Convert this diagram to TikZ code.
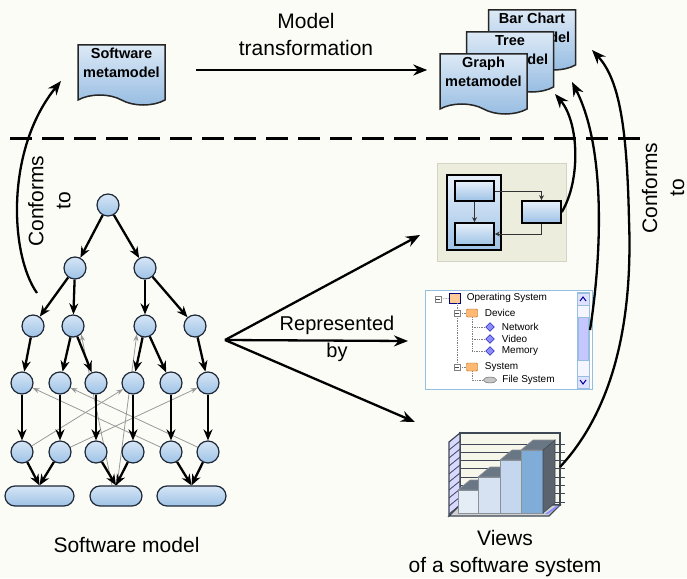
\documentclass[tikz,border=0pt]{standalone}
\usepackage{fontspec}
\setmainfont{Liberation Sans}
\usetikzlibrary{arrows.meta,positioning,shapes.symbols,shapes.geometric,backgrounds}

\definecolor{bgcol}{RGB}{252,252,247}
\definecolor{nodetop}{RGB}{214,230,246}
\definecolor{nodebot}{RGB}{158,194,230}
\definecolor{nodeline}{RGB}{30,40,55}
\definecolor{doctop}{RGB}{220,233,246}
\definecolor{docbot}{RGB}{150,188,226}
\definecolor{panelbg}{RGB}{237,237,221}
\definecolor{panelline}{RGB}{212,212,196}
\definecolor{tvframe}{RGB}{150,190,225}
\definecolor{chartgray}{RGB}{105,118,132}
\definecolor{chartdark}{RGB}{62,72,84}
\definecolor{wallcol}{RGB}{246,246,234}
\definecolor{barA}{RGB}{228,236,246}
\definecolor{barB}{RGB}{214,226,242}
\definecolor{barC}{RGB}{196,215,238}
\definecolor{barD}{RGB}{128,172,216}

\tikzset{
  smnode/.style={circle, draw=nodeline, line width=1.2pt, top color=nodetop,
    bottom color=nodebot, minimum size=22pt, inner sep=0pt},
  smbar/.style={rectangle, rounded corners=10pt, draw=nodeline, line width=1.2pt,
    top color=nodetop, bottom color=nodebot, minimum height=20pt, inner sep=0pt},
  tedge/.style={-{Stealth[length=11pt,width=9pt]}, line width=2.3pt},
  xedge/.style={-{Stealth[length=7pt,width=5pt]}, line width=0.8pt, draw=black!40},
  metadoc/.style={tape, tape bend top=none, tape bend bottom=out and in,
    tape bend height=10pt, draw=black!85, line width=1.5pt, top color=doctop,
    bottom color=docbot, minimum width=87pt, minimum height=60pt, inner sep=0pt,
    text depth=14pt, align=center, font=\bfseries\fontsize{14.5}{19}\selectfont},
  bigarrow/.style={-{Stealth[length=14pt,width=11pt]}, line width=2.3pt},
  biglabel/.style={font=\fontsize{21}{27}\selectfont, align=center},
  dvbox/.style={draw=black, line width=1.6pt, top color=nodetop!60,
    bottom color=nodebot, inner sep=0pt},
  dvedge/.style={-{Stealth[length=5pt,width=5pt]}, line width=0.9pt, draw=black!80},
  tvtext/.style={font=\fontsize{10}{12}\selectfont, inner sep=0pt, anchor=west},
  tvminus/.style={draw=gray, fill=white, minimum size=6pt, inner sep=0pt,
    path picture={\draw[black!70] (path picture bounding box.west) ++(1.2pt,0) -- ++(3.6pt,0);}},
  tvfolder/.style={draw=orange!70!black, fill=orange!55, minimum width=11pt,
    minimum height=8pt, inner sep=0pt, rounded corners=1pt},
  tvnet/.style={diamond, draw=blue!60!black, fill=blue!45, minimum size=9pt, inner sep=0pt},
  tvdisk/.style={ellipse, draw=gray!70!black, fill=gray!45, minimum width=13pt,
    minimum height=6pt, inner sep=0pt},
  tvline/.style={densely dotted, gray, line width=0.7pt},
}

\begin{document}
\begin{tikzpicture}[x=1pt,y=-1pt]
\useasboundingbox (0,0) rectangle (687,578);
\begin{scope}[on background layer]
  \fill[bgcol] (0,0) rectangle (687,578);
\end{scope}

% metamodels
\node[metadoc] (swmm) at (121.5,70) {Software\\metamodel};
\node[metadoc] (bcdoc) at (532,35) {Bar Chart\\metamodel};
\node[metadoc] (trdoc) at (510,57) {Tree\\metamodel};
\node[metadoc] (grdoc) at (483.5,79) {Graph\\metamodel};

\draw[bigarrow, shorten <=30pt, shorten >=12pt] (swmm.east) -- (swmm.east -| grdoc.west);
\node[biglabel] (mtlabel) at (306,34) {Model\\transformation};

\draw[line width=3pt, dash pattern=on 22pt off 10pt] (10,138) -- (643,138);

% software model
\node[smnode] (r) at (108,205) {};
\node[smnode] (a1) at (75,268) {};
\node[smnode] (a2) at (145,268) {};
\node[smnode] (b1) at (33,326) {};
\node[smnode] (b2) at (73,326) {};
\node[smnode] (b3) at (145,326) {};
\node[smnode] (b4) at (195,326) {};
\node[smnode] (c1) at (22,383) {};
\node[smnode] (c2) at (60,383) {};
\node[smnode] (c3) at (96,383) {};
\node[smnode] (c4) at (133,383) {};
\node[smnode] (c5) at (171,383) {};
\node[smnode] (c6) at (208,383) {};
\node[smnode] (d1) at (22,452) {};
\node[smnode] (d2) at (60,452) {};
\node[smnode] (d3) at (96,452) {};
\node[smnode] (d4) at (133,452) {};
\node[smnode] (d5) at (171,452) {};
\node[smnode] (d6) at (208,452) {};
\node[smbar, minimum width=69pt] (p1) at (39.5,496) {};
\node[smbar, minimum width=52pt] (p2) at (116,496) {};
\node[smbar, minimum width=69pt] (p3) at (191.5,496) {};

\draw[tedge] (r) -- (a1);
\draw[tedge] (r) -- (a2);
\draw[tedge] (a1) -- (b1);
\draw[tedge] (a1) -- (b2);
\draw[tedge] (a2) -- (b3);
\draw[tedge] (a2) -- (b4);
\draw[tedge] (b1) -- (c1);
\draw[tedge] (b2) -- (c2);
\draw[tedge] (b2) -- (c3);
\draw[tedge] (b3) -- (c4);
\draw[tedge] (b3) -- (c5);
\draw[tedge] (b4) -- (c6);
\foreach \i in {1,...,6}
  \draw[tedge] (c\i) -- (d\i);
\draw[tedge] (d1) -- (p1.north);
\draw[tedge] (d2) -- (p1.north);
\draw[tedge] (d3) -- (p2.north);
\draw[tedge] (d4) -- (p2.north);
\draw[tedge] (d5) -- (p3.north);
\draw[tedge] (d6) -- (p3.north);

% cross dependencies, behind the nodes
\begin{scope}[on background layer]
  \draw[xedge] (d5) -- (c1);
  \draw[xedge] (d6) -- (c2);
  \draw[xedge] (d1) -- (c4);
  \draw[xedge] (d2) -- (c6);
  \draw[xedge] ([xshift=-4pt]p2.north) -- (b2.south east);
  \draw[xedge] ([xshift=1pt]p2.north) -- (b3.south west);
\end{scope}

\node[font=\fontsize{21}{27}\selectfont, anchor=base] (smlabel) at (126.5,552) {Software model};

% conforms to (left)
\coordinate (smconf) at (37,293);
\coordinate (swtip) at (61,81);
\draw[bigarrow] (smconf) .. controls (10,255) and (5,150) .. (swtip);
\node[biglabel, rotate=90] (conf1) at (49.5,201) {Conforms\\to};

% represented by
\coordinate (rep) at (225,340);
\coordinate (repA) at (420,235);
\coordinate (repB) at (408,341);
\coordinate (repC) at (415,422);
\draw[bigarrow] (rep) -- (repA);
\draw[bigarrow] (rep) -- (repB);
\draw[bigarrow] (rep) -- (repC);
\node[font=\fontsize{20}{27}\selectfont, align=center] (replabel) at (337,339) {Represented\\by};

% graph view
\node[draw=panelline, fill=panelbg, minimum width=129pt, minimum height=98pt] (dview) at (501.5,212) {};
\node[dvbox, line width=2.2pt, minimum width=54pt, minimum height=75pt] (dvouter) at (474,212.5) {};
\node[dvbox, minimum width=39pt, minimum height=20pt] (dvtop) at (474.5,191) {};
\node[dvbox, minimum width=39pt, minimum height=22pt] (dvbot) at (474.5,234) {};
\node[dvbox, minimum width=39pt, minimum height=22pt] (dvright) at (541.5,212) {};
\draw[dvedge] (dvtop) -- (dvbot);
\draw[dvedge] (dvtop.east) -| (dvright.north);
\draw[dvedge] (dvright.south) |- (dvbot.east);

% tree view
\node[draw=tvframe, line width=1pt, fill=white, minimum width=167pt, minimum height=99pt] (tview) at (508.5,339.5) {};
\draw[tvframe, fill=blue!4] (577,292) rectangle (589,388);
\filldraw[fill=blue!12, draw=tvframe] (577,293) rectangle (589,305);
\draw[blue!60!black, line width=1pt] (580,301) -- (583,297) -- (586,301);
\filldraw[fill=blue!22, draw=tvframe] (578,317) rectangle (588,360);
\filldraw[fill=blue!12, draw=tvframe] (577,376) rectangle (589,388);
\draw[blue!60!black, line width=1pt] (580,380) -- (583,384) -- (586,380);

\node[tvminus] (m0) at (438,299) {};
\node[draw=blue!50!black, fill=orange!40, minimum width=11pt, minimum height=10pt, inner sep=0pt] (i0) at (455,298) {};
\node[tvtext, right=6pt of i0] (t0) {Operating System};
\node[tvminus] (m1) at (457,313) {};
\node[tvfolder] (i1) at (472,313) {};
\node[tvtext, right=7pt of i1] (t1) {Device};
\node[tvnet] (i2) at (490,327) {};
\node[tvtext, right=7pt of i2] (t2) {Network};
\node[tvnet] (i3) at (490,339) {};
\node[tvtext, right=7pt of i3] (t3) {Video};
\node[tvnet] (i4) at (490,351) {};
\node[tvtext, right=7pt of i4] (t4) {Memory};
\node[tvminus] (m2) at (457,367) {};
\node[tvfolder] (i5) at (472,367) {};
\node[tvtext, right=7pt of i5] (t5) {System};
\node[tvdisk] (i6) at (490,380) {};
\node[tvtext, right=5.5pt of i6] (t6) {File System};

\draw[tvline] (m0) -- (i0);
\draw[tvline] (m1 |- i0.south) -- (m1);
\draw[tvline] (m1) -- (m2);
\draw[tvline] (m1) -- (i1);
\draw[tvline] (m2) -- (i5);
\draw[tvline] (i1.south) -- (i1.south |- i4) -- (i4);
\draw[tvline] (i1.south |- i2) -- (i2);
\draw[tvline] (i1.south |- i3) -- (i3);
\draw[tvline] (i5.south) |- (i6);

% bar chart view
\fill[wallcol] (460,433) rectangle (560,505);
\foreach \k in {0,...,7}
  \draw[chartdark, line width=1pt] (460,444+8.3*\k) -- (565,444+8.3*\k);
\draw[chartdark, line width=1.5pt] (460,433) rectangle (560,505);
\filldraw[fill=blue!15, draw=chartdark, line width=1.2pt] (449,442) -- (460,433) -- (460,505) -- (449,516) -- cycle;
\foreach \k in {0,...,8}
  \draw[chartdark, line width=0.8pt] (449,450+8*\k) -- (460,441+8*\k);
\filldraw[fill=gray!35, draw=chartdark, line width=1.2pt] (449,516) -- (460,505) -- (560,505) -- (549,516) -- cycle;
\fill[blue!45] (545,514) -- (556,506) -- (559,506) -- (548,514) -- cycle;
\foreach \xa/\xb/\yt/\col in {458/478/490/barA, 478/500/477/barB, 500/521/460/barC, 521/543/450/barD} {
  \filldraw[fill=\col, draw=chartdark!60, line width=0.6pt] (\xa,\yt) rectangle (\xb,513);
  \filldraw[fill=chartgray, draw=chartdark!60, line width=0.6pt] (\xa,\yt) -- (\xb,\yt) -- (\xb+12,\yt-10) -- (\xa+12,\yt-10) -- cycle;
}
\filldraw[fill=chartdark!85, draw=chartdark, line width=0.6pt] (543,450) -- (555,440) -- (555,503) -- (543,513) -- cycle;
\coordinate (chartR) at (560,467);

\node[biglabel] (viewlabel) at (505,553.6) {Views\\of a software system};

% conforms to (right)
\coordinate (tvconf) at (590,330);
\coordinate (grtip) at (555,94);
\coordinate (trtip) at (572,82);
\coordinate (bctip) at (592,50);
\draw[bigarrow] (dvright.east) .. controls (581,180) and (579,122) .. (grtip);
\draw[bigarrow] (tvconf) .. controls (601,260) and (607,150) .. (trtip);
\draw[bigarrow] (chartR) .. controls (622,400) and (632,300) .. (629,220) .. controls (627,130) and (620,80) .. (bctip);
\node[biglabel, rotate=90] (conf2) at (663,188) {Conforms\\to};
\end{tikzpicture}
\end{document}
